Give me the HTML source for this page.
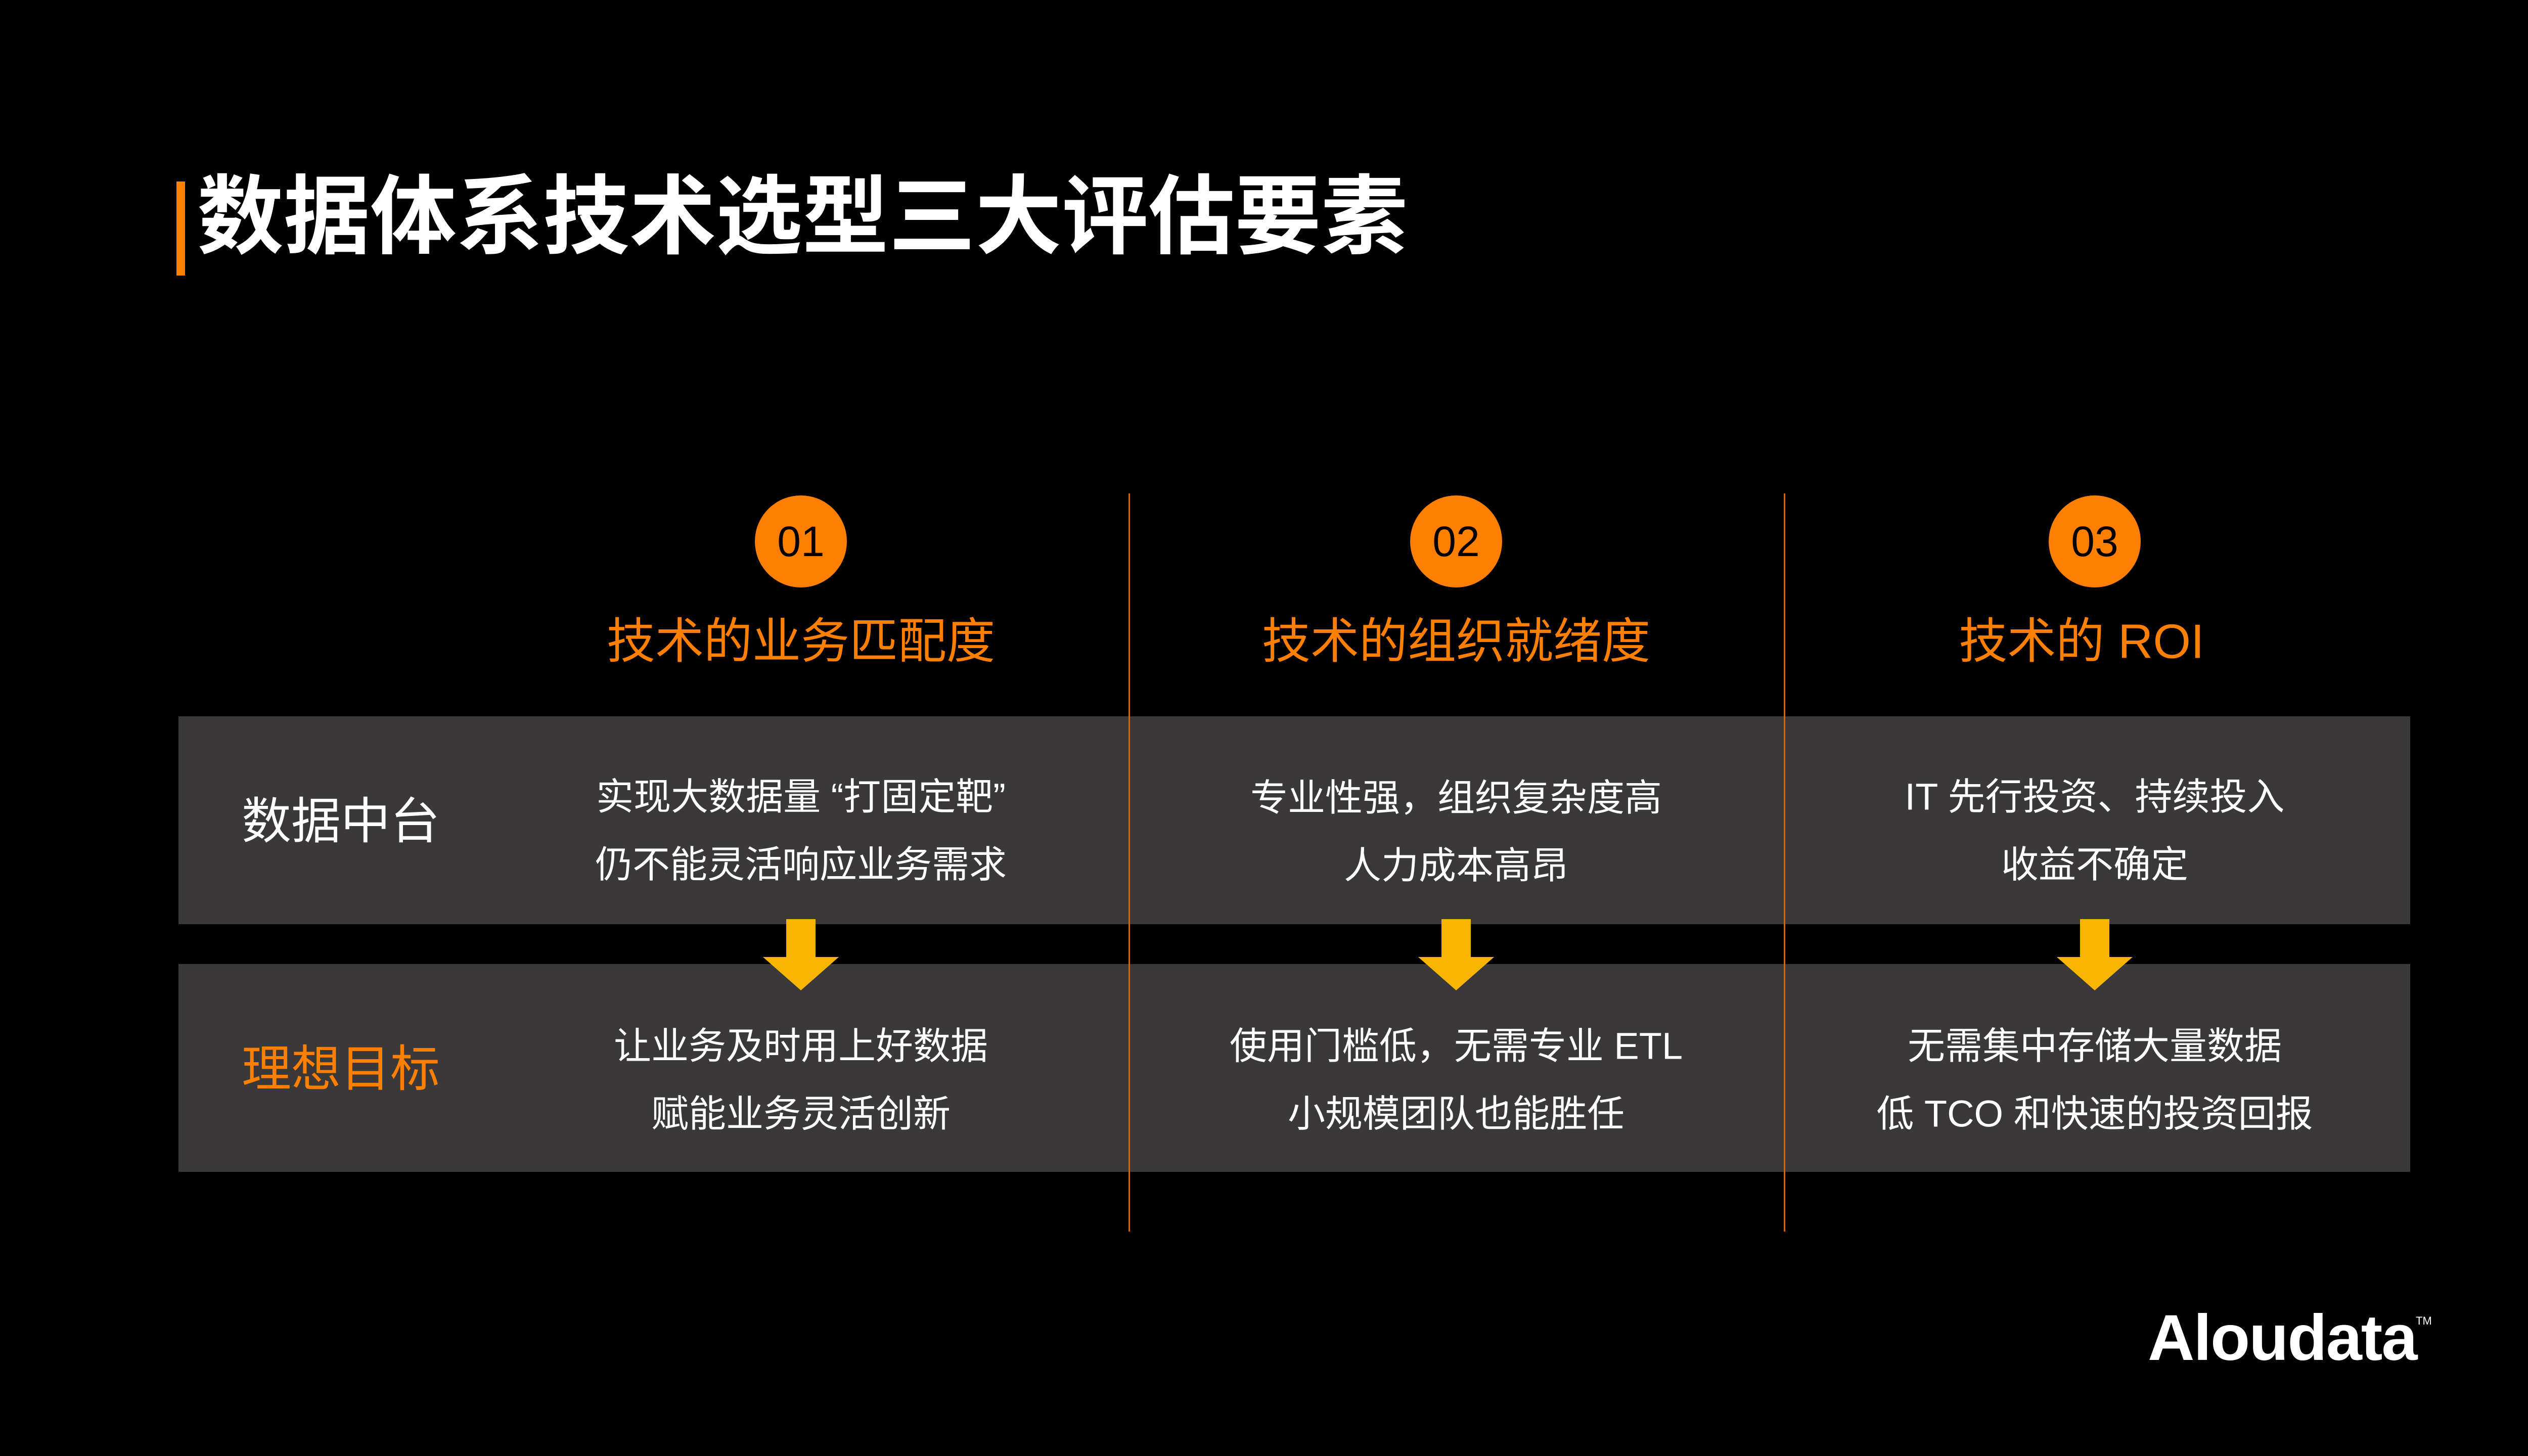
<!DOCTYPE html>
<html><head><meta charset="utf-8"><style>
*{margin:0;padding:0;box-sizing:border-box}
body{width:5120px;height:2880px;background:#000;position:relative;overflow:hidden;font-family:"Liberation Sans","Noto Sans CJK SC",sans-serif}
.a{position:absolute}
.c{position:absolute;transform:translate(-50%,-50%);white-space:nowrap;text-align:center}
.band{position:absolute;left:353px;width:4414px;height:411px;background:#3a3839}
.vl{position:absolute;width:3px;top:976px;height:1460px;background:#c96a10}
.circ{position:absolute;width:182px;height:182px;border-radius:50%;background:#ff7f00;transform:translate(-50%,-50%);color:#000;font-size:84px;line-height:182px;text-align:center}
.h{color:#ff7f00;font-size:96px}
.t{color:#fff;font-size:74px}
</style></head><body>
<div class="a" style="left:349px;top:359px;width:17px;height:186px;background:#ff7f00"></div>
<div class="a" style="left:390px;top:330px;font-size:171px;font-weight:bold;color:#fff;line-height:200px;white-space:nowrap">数据体系技术选型三大评估要素</div>

<div class="band" style="top:1417px"></div>
<div class="band" style="top:1907px"></div>
<div class="vl" style="left:2232px"></div>
<div class="vl" style="left:3528px"></div>

<div class="circ" style="left:1584px;top:1071px">01</div>
<div class="circ" style="left:2880px;top:1071px">02</div>
<div class="circ" style="left:4143px;top:1071px">03</div>
<div class="c h" style="left:1584px;top:1260px">技术的业务匹配度</div>
<div class="c h" style="left:2880px;top:1260px">技术的组织就绪度</div>
<div class="c h" style="left:4117px;top:1260px">技术的 ROI</div>

<div class="c" style="left:674px;top:1616px;color:#fff;font-size:98px">数据中台</div>
<div class="c" style="left:674px;top:2106px;color:#ff7f00;font-size:98px">理想目标</div>

<div class="c t" style="left:1584px;top:1570px">实现大数据量 “打固定靶”</div>
<div class="c t" style="left:1584px;top:1704px">仍不能灵活响应业务需求</div>
<div class="c t" style="left:2880px;top:1572px">专业性强，组织复杂度高</div>
<div class="c t" style="left:2880px;top:1706px">人力成本高昂</div>
<div class="c t" style="left:4143px;top:1570px">IT 先行投资、持续投入</div>
<div class="c t" style="left:4143px;top:1704px">收益不确定</div>

<div class="c t" style="left:1584px;top:2063px">让业务及时用上好数据</div>
<div class="c t" style="left:1584px;top:2197px">赋能业务灵活创新</div>
<div class="c t" style="left:2880px;top:2063px">使用门槛低，无需专业 ETL</div>
<div class="c t" style="left:2880px;top:2197px">小规模团队也能胜任</div>
<div class="c t" style="left:4143px;top:2063px">无需集中存储大量数据</div>
<div class="c t" style="left:4143px;top:2197px">低 TCO 和快速的投资回报</div>

<svg class="a" style="left:0;top:0" width="5120" height="2880">
<g fill="#f7b500">
<polygon points="1555,1818 1613,1818 1613,1893 1659,1893 1584,1959 1509,1893 1555,1893"/>
<polygon points="2851,1818 2909,1818 2909,1893 2955,1893 2880,1959 2805,1893 2851,1893"/>
<polygon points="4114,1818 4172,1818 4172,1893 4218,1893 4143,1959 4068,1893 4114,1893"/>
</g>
</svg>

<div class="a" style="left:4248px;top:2572px;font-size:128px;font-weight:bold;color:#fff;line-height:150px;letter-spacing:-2px">Aloudata</div>
<div class="a" style="left:4778px;top:2600px;font-size:22px;color:#fff">TM</div>
</body></html>
